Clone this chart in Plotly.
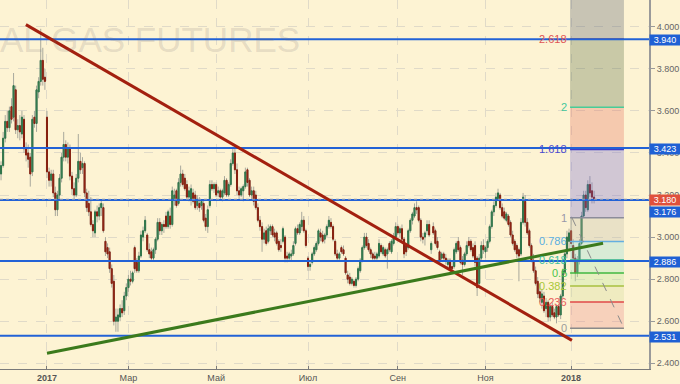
import plotly.graph_objects as go

# ---------------- data (daily NG futures candles, index = trading day) ----------------
opens = [3.30,3.34,3.47,3.55,3.52,3.62,3.57,3.70,3.51,3.53,3.49,3.56,3.42,3.40,3.38,3.31,3.57,3.54,3.69,3.74,3.84,3.76,
         3.57,3.31,3.27,3.30,3.21,3.13,3.20,3.28,3.38,3.44,3.38,3.42,3.29,3.23,3.20,3.28,3.36,3.33,3.35,3.21,
         3.16,3.12,3.06,3.02,3.12,3.10,3.14,3.14,2.98,2.95,2.93,2.85,2.79,2.60,2.60,2.62,2.66,2.65,2.72,
         2.76,2.80,2.79,2.95,2.88,2.84,2.91,3.00,3.03,3.01,2.94,2.93,2.90,2.94,2.99,3.07,3.03,3.06,3.10,3.05,3.10,3.06,3.18,
         3.22,3.16,3.26,3.30,3.28,3.25,3.19,3.18,3.21,3.20,3.15,3.16,3.15,3.16,3.09,3.05,3.15,3.25,3.23,
         3.25,3.21,3.22,3.19,3.21,3.27,3.20,3.25,3.35,3.40,3.32,3.22,3.20,3.22,3.24,3.32,3.27,3.20,3.22,3.20,3.14,3.08,
         3.05,2.99,3.03,2.98,3.03,3.05,3.02,3.02,2.98,2.96,2.98,3.00,2.91,2.90,2.91,2.92,2.97,3.04,3.02,3.05,3.08,3.03,
         2.90,2.86,2.88,2.92,2.94,2.97,3.02,3.01,2.99,3.01,3.05,3.07,3.05,2.98,2.92,2.90,2.95,2.94,2.90,2.82,
         2.81,2.78,2.79,2.77,2.80,2.84,2.89,2.95,3.00,2.97,2.94,2.92,2.91,2.90,2.91,2.96,2.92,2.94,2.92,2.97,2.93,2.97,3.00,
         3.05,3.02,3.04,2.99,2.96,2.95,3.03,3.08,3.10,3.14,3.14,3.08,3.00,3.00,3.03,3.06,2.94,3.05,3.03,2.98,
         2.93,2.90,2.92,2.90,2.87,2.89,2.86,2.86,2.93,2.98,2.95,2.89,2.87,2.92,2.98,2.98,2.95,2.96,2.90,2.78,2.90,2.96,
         2.93,2.95,2.98,3.05,3.12,3.15,3.18,3.20,3.14,3.12,3.08,3.10,3.07,3.01,2.98,2.96,2.94,2.92,3.07,3.17,3.07,
         3.03,2.96,2.89,2.84,2.79,2.74,2.69,2.72,2.66,2.69,2.62,2.67,2.64,2.62,2.67,2.63,2.72,2.83,2.92,2.98,
         3.03,2.96,2.90,2.83,2.89,2.97,3.10,3.20,3.13,3.25,3.22,3.19]
highs = [3.36,3.50,3.58,3.60,3.62,3.66,3.78,3.72,3.56,3.58,3.60,3.58,3.45,3.44,3.40,3.58,3.60,3.72,3.76,3.99,3.90,3.80,
         3.60,3.33,3.32,3.32,3.24,3.22,3.30,3.40,3.50,3.46,3.45,3.44,3.31,3.26,3.30,3.49,3.40,3.38,3.36,3.23,
         3.22,3.19,3.08,3.13,3.15,3.16,3.18,3.16,3.00,2.97,2.95,2.87,2.82,2.66,2.66,2.68,2.70,2.74,2.78,
         2.82,2.84,2.84,2.96,2.90,2.93,3.03,3.05,3.10,3.02,2.97,2.95,2.95,3.00,3.09,3.09,3.07,3.08,3.12,3.13,3.14,3.24,3.23,
         3.23,3.28,3.34,3.32,3.30,3.27,3.24,3.25,3.23,3.22,3.20,3.19,3.18,3.18,3.11,3.15,3.27,3.27,3.26,
         3.26,3.24,3.23,3.23,3.29,3.28,3.26,3.37,3.43,3.42,3.35,3.24,3.24,3.25,3.33,3.33,3.28,3.24,3.24,3.22,3.16,3.10,
         3.07,3.04,3.05,3.06,3.06,3.06,3.04,3.03,2.99,2.99,3.05,3.01,2.93,2.93,2.94,2.98,3.05,3.06,3.07,3.12,3.10,3.04,
         2.91,2.88,2.93,2.96,2.98,3.04,3.04,3.03,3.02,3.06,3.10,3.09,3.06,2.99,2.94,2.93,2.96,2.96,2.91,2.84,
         2.83,2.81,2.80,2.81,2.86,2.90,2.96,3.02,3.02,2.99,2.95,2.93,2.93,2.93,2.99,2.97,2.96,2.95,2.95,2.98,2.99,3.02,3.07,
         3.06,3.05,3.06,3.00,2.97,3.04,3.09,3.12,3.16,3.17,3.15,3.09,3.02,3.03,3.08,3.08,2.98,3.07,3.04,3.00,
         2.94,2.93,2.93,2.92,2.90,2.90,2.89,2.95,2.98,3.00,2.96,2.91,2.93,2.98,3.00,2.99,2.97,2.98,2.91,2.92,2.98,2.99,
         2.96,2.99,3.06,3.13,3.17,3.21,3.23,3.21,3.16,3.14,3.12,3.11,3.08,3.03,2.99,2.97,2.95,3.09,3.21,3.20,3.09,
         3.04,2.97,2.92,2.86,2.81,2.78,2.75,2.74,2.71,2.70,2.68,2.69,2.66,2.68,2.68,2.73,2.85,2.93,3.03,3.04,
         3.09,2.99,2.92,2.91,2.99,3.12,3.22,3.22,3.27,3.29,3.26,3.22]
lows = [3.27,3.33,3.45,3.50,3.50,3.54,3.55,3.49,3.47,3.46,3.47,3.40,3.36,3.33,3.24,3.29,3.52,3.50,3.66,3.72,3.72,3.70,
        3.28,3.24,3.24,3.19,3.10,3.10,3.18,3.26,3.36,3.36,3.35,3.27,3.20,3.18,3.19,3.26,3.30,3.30,3.19,3.12,
        3.10,3.05,3.00,3.00,3.07,3.08,3.10,3.02,2.91,2.90,2.83,2.76,2.58,2.55,2.55,2.60,2.62,2.63,2.70,
        2.74,2.77,2.78,2.83,2.83,2.83,2.90,2.98,3.02,2.93,2.90,2.89,2.89,2.92,2.98,3.01,3.01,3.02,3.04,3.04,3.04,3.05,3.15,
        3.14,3.15,3.24,3.24,3.22,3.18,3.17,3.15,3.16,3.13,3.13,3.12,3.13,3.07,3.03,3.02,3.14,3.22,3.21,
        3.19,3.19,3.18,3.17,3.20,3.19,3.19,3.24,3.34,3.30,3.20,3.18,3.19,3.17,3.23,3.24,3.19,3.18,3.15,3.13,3.07,3.03,
        2.93,2.97,2.96,2.97,3.01,3.00,2.98,2.96,2.93,2.93,2.97,2.88,2.88,2.89,2.89,2.91,2.96,3.01,3.01,3.03,3.02,2.95,
        2.84,2.84,2.87,2.91,2.93,2.96,2.98,2.97,2.97,3.00,3.04,3.04,2.98,2.91,2.89,2.89,2.92,2.91,2.82,2.78,
        2.77,2.77,2.76,2.76,2.79,2.83,2.88,2.94,2.95,2.93,2.90,2.89,2.89,2.89,2.90,2.92,2.91,2.90,2.85,2.93,2.92,2.96,2.99,
        3.01,3.00,2.98,2.90,2.91,2.94,3.02,3.06,3.09,3.11,3.07,2.98,2.97,2.96,3.01,3.00,2.92,3.01,2.96,2.94,
        2.88,2.89,2.89,2.87,2.85,2.84,2.83,2.85,2.92,2.93,2.87,2.82,2.86,2.91,2.95,2.93,2.90,2.86,2.72,2.76,2.89,2.92,
        2.90,2.93,2.97,3.04,3.10,3.14,3.17,3.13,3.09,3.08,3.07,3.05,3.00,2.96,2.93,2.90,2.79,2.91,3.06,3.05,3.01,
        2.95,2.88,2.83,2.77,2.71,2.69,2.66,2.64,2.62,2.60,2.60,2.62,2.61,2.59,2.62,2.61,2.71,2.82,2.90,2.94,
        2.95,2.88,2.79,2.81,2.87,2.96,3.09,3.12,3.12,3.19,3.16,3.16]
closes = [3.34,3.47,3.55,3.52,3.60,3.56,3.72,3.51,3.53,3.50,3.57,3.42,3.39,3.37,3.30,3.56,3.54,3.70,3.74,3.84,3.75,3.74,
          3.31,3.27,3.30,3.21,3.13,3.20,3.28,3.38,3.44,3.38,3.42,3.29,3.23,3.20,3.28,3.36,3.32,3.35,3.21,3.14,
          3.12,3.06,3.03,3.12,3.10,3.14,3.16,3.03,2.93,2.92,2.85,2.78,2.60,2.62,2.63,2.66,2.64,2.72,2.76,
          2.80,2.79,2.83,2.85,2.84,2.91,3.01,3.03,3.08,2.94,2.92,2.90,2.94,2.99,3.07,3.03,3.06,3.05,3.05,3.12,3.06,3.22,3.20,
          3.15,3.26,3.30,3.25,3.23,3.19,3.22,3.23,3.17,3.14,3.18,3.14,3.17,3.08,3.05,3.13,3.25,3.23,3.25,
          3.20,3.22,3.19,3.22,3.27,3.20,3.25,3.35,3.40,3.32,3.22,3.20,3.23,3.24,3.31,3.26,3.20,3.22,3.17,3.14,3.08,3.05,
          2.99,3.02,2.97,3.04,3.05,3.01,3.00,2.97,2.94,2.95,3.04,2.90,2.90,2.92,2.92,2.96,3.04,3.02,3.06,3.08,3.03,2.96,
          2.86,2.87,2.92,2.95,2.97,3.03,3.00,2.98,3.01,3.05,3.08,3.05,2.99,2.92,2.90,2.92,2.93,2.92,2.83,2.80,
          2.78,2.80,2.77,2.80,2.85,2.89,2.95,3.00,2.96,2.94,2.92,2.90,2.90,2.92,2.97,2.93,2.95,2.91,2.94,2.94,2.98,3.00,3.05,
          3.02,3.04,2.99,2.92,2.93,3.03,3.08,3.11,3.14,3.13,3.08,3.00,2.99,3.02,3.06,3.01,2.97,3.02,2.97,2.95,
          2.89,2.92,2.90,2.89,2.89,2.85,2.85,2.94,2.97,2.94,2.88,2.87,2.92,2.96,2.96,2.94,2.91,2.88,2.76,2.90,2.96,2.94,
          2.95,2.98,3.05,3.12,3.15,3.19,3.21,3.14,3.10,3.09,3.11,3.06,3.01,2.97,2.94,2.92,2.91,3.07,3.19,3.07,3.02,
          2.96,2.89,2.84,2.78,2.73,2.71,2.73,2.65,2.69,2.62,2.67,2.63,2.62,2.67,2.63,2.72,2.84,2.92,3.00,3.02,
          2.97,2.90,2.83,2.89,2.97,3.10,3.20,3.14,3.25,3.21,3.19,3.18]
days = list(range(len(closes)))

tick_pos = [22, 61, 103, 147, 190, 232, 273]
tick_text = ["<b>2017</b>", "Мар", "Май", "Июл", "Сен", "Ноя", "<b>2018</b>"]

levels = [3.940, 3.423, 3.176, 2.886, 2.531]
level_labels = ["3.940", "3.423", "3.176", "2.886", "2.531"]
last_price = 3.180

# trend lines (day index, price)
red_trend = [(11.9, 4.010), (273.4, 2.509)]
green_trend = [(22.0, 2.448), (288.3, 2.971)]

# Fibonacci extension tool
fib_x = (272.5, 298.3)
fib_anchor_x = (273.4, 298.3)
fib_zero, fib_one = 2.567, 3.092
fib_ratios = [0, 0.236, 0.382, 0.5, 0.618, 0.786, 1, 1.618, 2, 2.618]
fib_names = ["0", "0.236", "0.382", "0.5", "0.618", "0.786", "1", "1.618", "2", "2.618"]
fib_line_colors = ["#8a8a8a", "#e04848", "#a8c040", "#40b840", "#30b08a", "#64aee0",
                   "#8c8c9a", "#3c3cc8", "#48cc98", "#a84a40"]
fib_label_colors = ["#9a9a9a", "#e85a5a", "#a8c838", "#4cc44c", "#3cc09c", "#5aaee0",
                    "#9898a8", "#4a4ad0", "#44c89c", "#e05454"]
fib_band_colors = ["rgba(236,133,131,0.3)", "rgba(210,220,148,0.3)", "rgba(183,233,148,0.3)",
                   "rgba(150,233,181,0.3)", "rgba(136,220,221,0.3)", "rgba(190,186,170,0.3)",
                   "rgba(110,100,215,0.3)", "rgba(230,106,88,0.3)", "rgba(83,106,65,0.3)",
                   "rgba(80,90,110,0.3)"]

BG = "#fdf3d3"
UP_FILL, DN_FILL = "#3f8f5f", "#a32b1e"

fig = go.Figure()
# wicks
fig.add_trace(go.Candlestick(
    x=days, open=opens, high=highs, low=lows, close=closes,
    increasing=dict(line=dict(color="#a8a89c", width=1), fillcolor=UP_FILL),
    decreasing=dict(line=dict(color="#a8a89c", width=1), fillcolor=DN_FILL),
    whiskerwidth=0, showlegend=False, hoverinfo="skip"))
# bodies
body_hi = [max(o, c) for o, c in zip(opens, closes)]
body_lo = [min(o, c) for o, c in zip(opens, closes)]
fig.add_trace(go.Candlestick(
    x=days, open=opens, high=body_hi, low=body_lo, close=closes,
    increasing=dict(line=dict(color="#2f7449", width=1), fillcolor=UP_FILL),
    decreasing=dict(line=dict(color="#86200f", width=1), fillcolor=DN_FILL),
    whiskerwidth=0, showlegend=False, hoverinfo="skip"))

shapes = []
annotations = []

# Fibonacci bands
fib_prices = [fib_zero + r * (fib_one - fib_zero) for r in fib_ratios]
band_edges = fib_prices + [4.3]
for k in range(len(fib_prices)):
    shapes.append(dict(type="rect", xref="x", yref="y", x0=fib_x[0], x1=fib_x[1],
                       y0=band_edges[k], y1=band_edges[k + 1],
                       fillcolor=fib_band_colors[k], line=dict(width=0), layer="above"))
for p, lc, tc, name in zip(fib_prices, fib_line_colors, fib_label_colors, fib_names):
    shapes.append(dict(type="line", xref="x", yref="y", x0=fib_x[0], x1=fib_x[1], y0=p, y1=p,
                       line=dict(color=lc, width=1.5), layer="above"))
    annotations.append(dict(x=fib_x[0], y=p, xref="x", yref="y", text=name, showarrow=False,
                            xanchor="right", yanchor="middle", xshift=-1,
                            font=dict(family="Arial", size=11, color=tc)))
shapes.append(dict(type="line", xref="x", yref="y", x0=fib_anchor_x[0], x1=fib_anchor_x[1],
                   y0=fib_one, y1=fib_zero, line=dict(color="#8a8a8a", width=1, dash="dash"),
                   layer="above"))

# horizontal levels
for lv in levels:
    shapes.append(dict(type="line", xref="paper", yref="y", x0=0, x1=1, y0=lv, y1=lv,
                       line=dict(color="#2262d6", width=2), layer="above"))
shapes.append(dict(type="line", xref="paper", yref="y", x0=0, x1=1, y0=last_price, y1=last_price,
                   line=dict(color="#9aa0b0", width=1, dash="dot"), layer="above"))

# trend lines
shapes.append(dict(type="line", xref="x", yref="y", x0=red_trend[0][0], y0=red_trend[0][1],
                   x1=red_trend[1][0], y1=red_trend[1][1],
                   line=dict(color="#a3200f", width=3), layer="above"))
shapes.append(dict(type="line", xref="x", yref="y", x0=green_trend[0][0], y0=green_trend[0][1],
                   x1=green_trend[1][0], y1=green_trend[1][1],
                   line=dict(color="#3b7a1c", width=3), layer="above"))

# price labels on the right axis
for lv, lab in zip(levels, level_labels):
    annotations.append(dict(x=1, y=lv, xref="paper", yref="y", text=lab, showarrow=False,
                            xanchor="left", yanchor="middle", yshift=(-12 if lab == "3.176" else -1),
                            bgcolor="#1f60d4", width=30, height=10, borderpad=0,
                            font=dict(family="Arial", size=9, color="white")))
annotations.append(dict(x=1, y=last_price, xref="paper", yref="y", text="3.180", showarrow=False,
                        xanchor="left", yanchor="middle", yshift=-1,
                        bgcolor="#e0503c", width=30, height=10, borderpad=0,
                        font=dict(family="Arial", size=9, color="white")))

# watermark
annotations.append(dict(x=302 / 649, y=1 - 39 / 369, xref="paper", yref="paper",
                        text="NATURAL GAS FUTURES", showarrow=False, xanchor="right",
                        yanchor="middle",
                        font=dict(family="Arial", size=35, color="rgba(115,105,110,0.18)")))

fig.update_layout(
    width=680, height=384,
    margin=dict(l=0, r=31, t=0, b=15, autoexpand=False),
    paper_bgcolor=BG, plot_bgcolor=BG,
    shapes=shapes, annotations=annotations,
    showlegend=False,
    xaxis=dict(range=[-0.5, 310.3], tickmode="array", tickvals=tick_pos, ticktext=tick_text,
               rangeslider=dict(visible=False), showgrid=True, gridcolor="#e0dac8",
               griddash="dash", zeroline=False, showline=True, linecolor="#7a7a7a",
               linewidth=1, ticks="inside", ticklen=3, tickcolor="#7a7a7a", automargin=False,
               tickfont=dict(family="Arial", size=9, color="#555555")),
    yaxis=dict(range=[2.373, 4.127], side="right", tick0=2.4, dtick=0.2, tickformat=".3f",
               showgrid=True, gridcolor="#e0dac8", griddash="dash", zeroline=False,
               showline=True, linecolor="#9a9a9a", linewidth=2, ticks="outside", ticklen=4,
               tickcolor="#9a9a9a", automargin=False,
               tickfont=dict(family="Arial", size=9, color="#666666")),
)

fig.write_html("out.html", config={"displayModeBar": False, "staticPlot": True},
               post_script="document.body.style.margin='0';document.body.style.background='" + BG + "';")
